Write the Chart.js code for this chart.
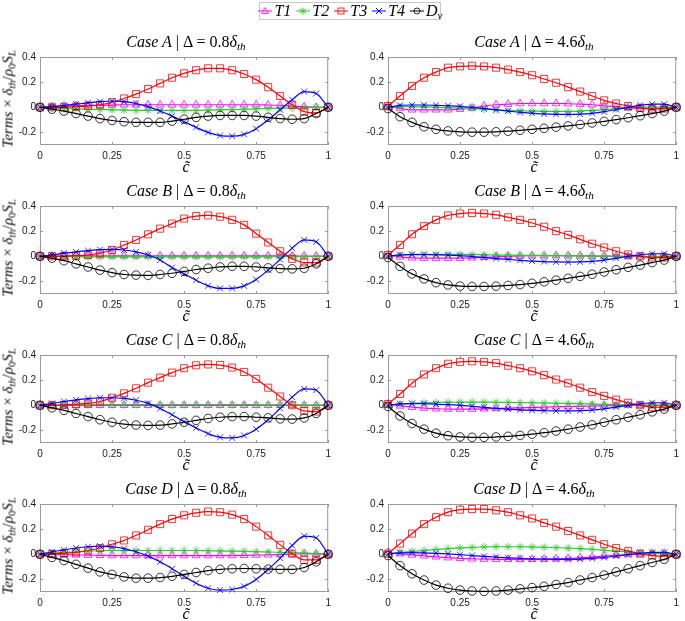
<!DOCTYPE html>
<html>
<head>
<meta charset="utf-8">
<script src="https://cdn.jsdelivr.net/npm/chart.js@4.4.1/dist/chart.umd.min.js"></script>
<style>
  body { margin: 0; background: #fff; }
  #wrap { position: relative; width: 685px; height: 621px; overflow: hidden; }
  canvas { position: absolute; }
  .ttl { position: absolute; width: 292px; text-align: center; font: 16px "Liberation Serif", serif; line-height: 16px; white-space: nowrap; color: #000; }
  .xl { position: absolute; width: 292px; text-align: center; font: italic 16px "Liberation Serif", serif; line-height: 16px; color: #000; }
  .yl { position: absolute; left: 8px; transform: translate(-50%, -50%) rotate(-90deg); font: 15px "Liberation Serif", serif; white-space: nowrap; color: #000; }
  i { font-style: italic; }
  sub { font-size: 70%; vertical-align: -3px; line-height: 0; }
  #legend { position: absolute; left: 259px; top: 2px; width: 182px; height: 18px; border: 1px solid #c8c8c8; box-sizing: border-box; display: flex; align-items: center; justify-content: center; font: italic 16px "Liberation Serif", serif; background: #fff; }
  #legend span.it { display: flex; align-items: center; margin: 0 2px; }
  #legend svg { margin-right: 1px; }
</style>
</head>
<body>
<div id="wrap"></div>
<script>
// x positions of the samples (c tilde)
var cTilde = [0, 0.0417, 0.0833, 0.125, 0.1667, 0.2083, 0.25, 0.2917, 0.3333, 0.375, 0.4167, 0.4583, 0.5,
              0.5417, 0.5833, 0.625, 0.6667, 0.7083, 0.75, 0.7917, 0.8333, 0.875, 0.9167, 0.9583, 1];
var xTicks = [0, 0.25, 0.5, 0.75, 1];
var xTickLabels = ['0', '0.25', '0.5', '0.75', '1'];
var yTicks = [-0.2, 0, 0.2, 0.4];
var yTickLabels = ['-0.2', '0', '0.2', '0.4'];
var caseNames = ['A', 'B', 'C', 'D'];
var deltaNames = ['0.8', '4.6'];
var seriesNames = ['T1', 'T2', 'T3', 'T4', 'Dv'];

// Case A, delta = 0.8
var t1A08 = [0, 0.005, 0.01, 0.012, 0.015, 0.015, 0.018, 0.02, 0.02, 0.02, 0.02, 0.02, 0.02, 0.02, 0.02, 0.02, 0.02, 0.02, 0.02, 0.018, 0.015, 0.01, 0.005, 0, 0];
var t2A08 = [0, -0.005, -0.01, -0.012, -0.015, -0.018, -0.02, -0.022, -0.025, -0.025, -0.025, -0.025, -0.025, -0.025, -0.022, -0.02, -0.018, -0.015, -0.012, -0.01, -0.008, -0.005, -0.003, 0, 0];
var t3A08 = [0, 0, 0, 0.005, 0.01, 0.02, 0.04, 0.07, 0.105, 0.145, 0.19, 0.235, 0.27, 0.295, 0.31, 0.31, 0.295, 0.265, 0.22, 0.16, 0.09, 0.02, -0.035, -0.045, 0];
var t4A08 = [0, 0.005, 0.015, 0.025, 0.035, 0.045, 0.05, 0.045, 0.03, 0.005, -0.03, -0.07, -0.115, -0.16, -0.2, -0.225, -0.23, -0.215, -0.17, -0.1, -0.02, 0.06, 0.125, 0.11, 0];
var dvA08 = [0, -0.015, -0.03, -0.05, -0.07, -0.09, -0.105, -0.115, -0.12, -0.12, -0.12, -0.11, -0.095, -0.08, -0.07, -0.065, -0.065, -0.065, -0.07, -0.08, -0.09, -0.095, -0.09, -0.05, 0];
// Case A, delta = 4.6
var t1A46 = [0.01, -0.01, -0.02, -0.02, -0.02, -0.02, -0.015, -0.005, 0.01, 0.02, 0.025, 0.03, 0.03, 0.03, 0.03, 0.028, 0.025, 0.02, 0.012, 0.005, -0.005, -0.01, -0.01, -0.005, 0];
var t2A46 = [0, 0.005, 0.005, 0.003, 0, -0.003, -0.007, -0.01, -0.015, -0.02, -0.025, -0.028, -0.03, -0.032, -0.033, -0.033, -0.03, -0.025, -0.018, -0.01, -0.003, 0, 0.002, 0.002, 0];
var t3A46 = [0.01, 0.09, 0.17, 0.235, 0.28, 0.315, 0.325, 0.33, 0.325, 0.315, 0.3, 0.28, 0.255, 0.225, 0.195, 0.16, 0.125, 0.09, 0.055, 0.03, 0.01, -0.005, -0.012, -0.01, 0];
var t4A46 = [0, 0.015, 0.018, 0.018, 0.015, 0.012, 0.008, 0, -0.01, -0.02, -0.03, -0.04, -0.047, -0.053, -0.056, -0.057, -0.055, -0.048, -0.035, -0.018, 0, 0.015, 0.025, 0.025, 0];
var dvA46 = [-0.01, -0.075, -0.12, -0.155, -0.175, -0.188, -0.195, -0.198, -0.198, -0.195, -0.19, -0.183, -0.175, -0.167, -0.158, -0.148, -0.137, -0.125, -0.112, -0.098, -0.083, -0.067, -0.05, -0.03, 0];
// Case B, delta = 0.8
var t1B08 = [0, 0.002, 0.003, 0.003, 0.004, 0.004, 0.004, 0.004, 0.004, 0.004, 0.004, 0.004, 0.004, 0.004, 0.004, 0.004, 0.004, 0.004, 0.004, 0.004, 0.003, 0.003, 0.002, 0.001, 0];
var t2B08 = [0, -0.002, -0.003, -0.004, -0.004, -0.005, -0.005, -0.005, -0.005, -0.005, -0.005, -0.005, -0.005, -0.005, -0.005, -0.005, -0.005, -0.004, -0.004, -0.004, -0.003, -0.003, -0.002, -0.001, 0];
var t3B08 = [0, 0, 0.002, 0.005, 0.01, 0.025, 0.05, 0.09, 0.13, 0.175, 0.22, 0.26, 0.3, 0.32, 0.325, 0.315, 0.29, 0.25, 0.18, 0.11, 0.04, -0.02, -0.05, -0.05, 0];
var t4B08 = [0, 0.01, 0.025, 0.035, 0.045, 0.053, 0.055, 0.05, 0.035, 0.01, -0.03, -0.09, -0.14, -0.19, -0.235, -0.255, -0.255, -0.235, -0.185, -0.11, -0.025, 0.065, 0.13, 0.115, 0];
var dvB08 = [0, -0.015, -0.035, -0.06, -0.085, -0.11, -0.13, -0.145, -0.15, -0.152, -0.145, -0.135, -0.12, -0.105, -0.095, -0.085, -0.08, -0.08, -0.085, -0.092, -0.098, -0.1, -0.095, -0.06, 0];
// Case B, delta = 4.6
var t1B46 = [0.01, -0.005, -0.012, -0.015, -0.015, -0.015, -0.015, -0.012, -0.008, -0.004, 0, 0.003, 0.005, 0.005, 0.005, 0.005, 0.004, 0.003, 0.001, 0, -0.002, -0.003, -0.003, -0.002, 0];
var t2B46 = [0, 0.01, 0.015, 0.015, 0.015, 0.015, 0.015, 0.013, 0.012, 0.01, 0.01, 0.008, 0.007, 0.006, 0.005, 0.004, 0.003, 0.002, 0.001, 0, 0, 0, 0, 0, 0];
var t3B46 = [0.01, 0.09, 0.175, 0.24, 0.29, 0.325, 0.34, 0.345, 0.34, 0.33, 0.31, 0.29, 0.265, 0.235, 0.2, 0.17, 0.135, 0.1, 0.07, 0.04, 0.015, 0, -0.01, -0.01, 0];
var t4B46 = [0, 0.012, 0.014, 0.013, 0.012, 0.01, 0.005, -0.002, -0.01, -0.018, -0.025, -0.032, -0.038, -0.042, -0.045, -0.046, -0.045, -0.04, -0.03, -0.015, 0, 0.012, 0.02, 0.02, 0];
var dvB46 = [-0.01, -0.08, -0.14, -0.18, -0.21, -0.228, -0.237, -0.24, -0.24, -0.238, -0.232, -0.225, -0.215, -0.203, -0.19, -0.175, -0.16, -0.143, -0.125, -0.107, -0.088, -0.07, -0.05, -0.03, 0];
// Case C, delta = 0.8
var t1C08 = [0, 0, 0, 0, 0, 0, 0, 0, 0, 0, 0, 0, 0, 0, 0, 0, 0, 0, 0, 0, 0, 0, 0, 0, 0];
var t2C08 = [0, 0.002, 0.003, 0.004, 0.004, 0.005, 0.005, 0.005, 0.005, 0.005, 0.005, 0.005, 0.005, 0.005, 0.005, 0.005, 0.005, 0.005, 0.004, 0.004, 0.004, 0.003, 0.002, 0.001, 0];
var t3C08 = [0, 0, 0.003, 0.008, 0.015, 0.03, 0.06, 0.095, 0.135, 0.18, 0.22, 0.26, 0.295, 0.318, 0.325, 0.32, 0.3, 0.265, 0.21, 0.14, 0.07, 0, -0.045, -0.05, 0];
var t4C08 = [0, 0.015, 0.03, 0.043, 0.053, 0.06, 0.06, 0.055, 0.04, 0.015, -0.025, -0.075, -0.13, -0.18, -0.225, -0.255, -0.26, -0.24, -0.19, -0.115, -0.025, 0.065, 0.13, 0.12, 0];
var dvC08 = [0, -0.02, -0.04, -0.065, -0.09, -0.115, -0.135, -0.15, -0.157, -0.16, -0.158, -0.148, -0.135, -0.12, -0.105, -0.095, -0.09, -0.09, -0.095, -0.1, -0.108, -0.11, -0.1, -0.065, 0];
// Case C, delta = 4.6
var t1C46 = [0.01, -0.005, -0.015, -0.022, -0.027, -0.03, -0.03, -0.03, -0.028, -0.025, -0.022, -0.02, -0.017, -0.014, -0.012, -0.01, -0.008, -0.006, -0.004, -0.002, 0, 0, 0, 0, 0];
var t2C46 = [0, 0.01, 0.015, 0.02, 0.022, 0.024, 0.025, 0.025, 0.025, 0.024, 0.023, 0.022, 0.02, 0.018, 0.016, 0.014, 0.012, 0.01, 0.008, 0.005, 0.003, 0.002, 0.001, 0, 0];
var t3C46 = [0.01, 0.09, 0.175, 0.245, 0.295, 0.33, 0.345, 0.35, 0.345, 0.335, 0.315, 0.295, 0.27, 0.24, 0.205, 0.175, 0.14, 0.105, 0.075, 0.045, 0.02, 0, -0.012, -0.015, 0];
var t4C46 = [0, 0.012, 0.014, 0.013, 0.01, 0.006, 0, -0.008, -0.016, -0.024, -0.03, -0.036, -0.04, -0.043, -0.045, -0.045, -0.043, -0.038, -0.028, -0.014, 0, 0.012, 0.02, 0.02, 0];
var dvC46 = [-0.01, -0.085, -0.145, -0.19, -0.222, -0.242, -0.252, -0.255, -0.255, -0.252, -0.247, -0.24, -0.23, -0.218, -0.205, -0.19, -0.173, -0.155, -0.135, -0.115, -0.095, -0.075, -0.052, -0.03, 0];
// Case D, delta = 0.8
var t1D08 = [0, 0, -0.003, -0.005, -0.007, -0.008, -0.01, -0.01, -0.01, -0.01, -0.01, -0.01, -0.01, -0.01, -0.01, -0.01, -0.01, -0.008, -0.006, -0.004, -0.002, 0, 0.005, 0.003, 0];
var t2D08 = [0, 0.01, 0.015, 0.02, 0.025, 0.028, 0.03, 0.03, 0.03, 0.03, 0.03, 0.03, 0.03, 0.03, 0.028, 0.027, 0.025, 0.023, 0.02, 0.018, 0.015, 0.012, 0.01, 0.007, 0];
var t3D08 = [0, 0.002, 0.008, 0.015, 0.03, 0.05, 0.08, 0.11, 0.15, 0.195, 0.24, 0.28, 0.31, 0.33, 0.34, 0.335, 0.315, 0.28, 0.22, 0.15, 0.075, 0.005, -0.045, -0.045, 0];
var t4D08 = [0, 0.02, 0.035, 0.05, 0.06, 0.065, 0.06, 0.045, 0.02, -0.015, -0.06, -0.115, -0.175, -0.23, -0.27, -0.285, -0.28, -0.255, -0.2, -0.12, -0.03, 0.07, 0.145, 0.13, 0];
var dvD08 = [0, -0.025, -0.05, -0.08, -0.11, -0.14, -0.16, -0.18, -0.19, -0.19, -0.185, -0.175, -0.16, -0.145, -0.13, -0.12, -0.115, -0.113, -0.115, -0.118, -0.12, -0.12, -0.105, -0.06, 0];
// Case D, delta = 4.6
var t1D46 = [0.015, 0.005, -0.005, -0.012, -0.02, -0.027, -0.032, -0.036, -0.038, -0.04, -0.04, -0.04, -0.04, -0.038, -0.036, -0.033, -0.028, -0.022, -0.015, -0.008, -0.002, 0.003, 0.008, 0.008, 0];
var t2D46 = [0, 0.015, 0.022, 0.03, 0.038, 0.045, 0.05, 0.055, 0.058, 0.06, 0.06, 0.06, 0.058, 0.056, 0.053, 0.05, 0.045, 0.04, 0.032, 0.025, 0.018, 0.012, 0.008, 0.005, 0];
var t3D46 = [0.005, 0.085, 0.165, 0.24, 0.295, 0.335, 0.355, 0.36, 0.36, 0.35, 0.335, 0.31, 0.285, 0.25, 0.22, 0.185, 0.15, 0.115, 0.08, 0.05, 0.025, 0.005, -0.01, -0.015, 0];
var t4D46 = [0, 0.012, 0.014, 0.012, 0.008, 0.003, -0.003, -0.01, -0.017, -0.023, -0.028, -0.032, -0.036, -0.038, -0.04, -0.04, -0.038, -0.033, -0.025, -0.014, -0.002, 0.008, 0.015, 0.015, 0];
var dvD46 = [-0.01, -0.09, -0.155, -0.205, -0.245, -0.27, -0.285, -0.292, -0.295, -0.292, -0.285, -0.275, -0.265, -0.255, -0.24, -0.225, -0.205, -0.185, -0.165, -0.14, -0.115, -0.09, -0.065, -0.04, 0];

var panelData = [
  [[t1A08, t2A08, t3A08, t4A08, dvA08], [t1A46, t2A46, t3A46, t4A46, dvA46]],
  [[t1B08, t2B08, t3B08, t4B08, dvB08], [t1B46, t2B46, t3B46, t4B46, dvB46]],
  [[t1C08, t2C08, t3C08, t4C08, dvC08], [t1C46, t2C46, t3C46, t4C46, dvC46]],
  [[t1D08, t2D08, t3D08, t4D08, dvD08], [t1D46, t2D46, t3D46, t4D46, dvD46]]
];

// look of each series
var colors = ['#ff00ff', '#2ccc2c', '#ff0000', '#0000ff', '#000000'];
var markers = ['triangle', 'star', 'rect', 'crossRot', 'circle'];
var radii = [4.5, 4, 5, 4.2, 4.3];

// layout
var plotLefts = [40, 388];
var plotTops = [53, 202, 351, 500];
var plotW = 292, plotH = 92;
var yAxisW = 34, xAxisH = 16, padTop = 6, padRight = 4;

// box round the plot area with inward ticks (matlab look)
var boxPlugin = {
  id: 'box',
  beforeDatasetsDraw: function(chart) {
    var ctx = chart.ctx, a = chart.chartArea;
    var xs = chart.scales.x, ys = chart.scales.y;
    ctx.save();
    ctx.strokeStyle = '#9a9a9a';
    ctx.lineWidth = 1;
    ctx.strokeRect(a.left + 0.5, a.top + 0.5, a.right - a.left - 1, a.bottom - a.top - 1);
    ctx.beginPath();
    xTicks.forEach(function(v) {
      var px = Math.round(xs.getPixelForValue(v)) + 0.5;
      ctx.moveTo(px, a.bottom); ctx.lineTo(px, a.bottom - 3);
      ctx.moveTo(px, a.top); ctx.lineTo(px, a.top + 3);
    });
    yTicks.forEach(function(v) {
      var py = Math.round(ys.getPixelForValue(v)) + 0.5;
      ctx.moveTo(a.left, py); ctx.lineTo(a.left + 3, py);
      ctx.moveTo(a.right, py); ctx.lineTo(a.right - 3, py);
    });
    ctx.stroke();
    ctx.restore();
  }
};

function drawPanel(row, col) {
  var wrap = document.getElementById('wrap');
  var cv = document.createElement('canvas');
  cv.width = plotW + yAxisW + padRight;
  cv.height = plotH + padTop + xAxisH;
  cv.style.left = (plotLefts[col] - yAxisW) + 'px';
  cv.style.top = (plotTops[row] - padTop) + 'px';
  wrap.appendChild(cv);

  var sets = panelData[row][col].map(function(arr, i) {
    return {
      label: seriesNames[i],
      data: cTilde.map(function(x, k) { return { x: x, y: arr[k] }; }),
      borderColor: colors[i],
      borderWidth: 1.2,
      pointStyle: markers[i],
      pointRadius: radii[i],
      pointBorderColor: colors[i],
      pointBackgroundColor: 'rgba(0,0,0,0)',
      pointBorderWidth: 0.8,
      cubicInterpolationMode: 'monotone',
      clip: false,
      order: 4 - i
    };
  });

  new Chart(cv.getContext('2d'), {
    type: 'line',
    data: { datasets: sets },
    options: {
      responsive: false,
      animation: false,
      layout: { padding: { top: padTop, right: padRight, left: 0, bottom: 0 } },
      plugins: { legend: { display: false }, tooltip: { enabled: false } },
      scales: {
        x: {
          type: 'linear', min: 0, max: 1,
          afterBuildTicks: function(s) { s.ticks = xTicks.map(function(v) { return { value: v }; }); },
          afterFit: function(s) { s.height = xAxisH; },
          grid: { display: false, drawTicks: false },
          border: { display: false },
          ticks: {
            autoSkip: false, maxRotation: 0, padding: 5, color: '#1a1a1a',
            font: { family: 'Liberation Sans', size: 10 },
            callback: function(v, i) { return xTickLabels[i]; }
          }
        },
        y: {
          min: -0.3, max: 0.4,
          afterBuildTicks: function(s) { s.ticks = yTicks.map(function(v) { return { value: v }; }); },
          afterFit: function(s) { s.width = yAxisW; },
          grid: { display: false, drawTicks: false },
          border: { display: false },
          ticks: {
            autoSkip: false, padding: 4, color: '#1a1a1a',
            font: { family: 'Liberation Sans', size: 10 },
            callback: function(v, i) { return yTickLabels[i]; }
          }
        }
      }
    },
    plugins: [boxPlugin]
  });

  // title and axis labels as html text
  var t = document.createElement('div');
  t.className = 'ttl';
  t.style.left = plotLefts[col] + 'px';
  t.style.top = (plotTops[row] - 19) + 'px';
  t.innerHTML = '<i>Case ' + caseNames[row] + '</i> | &Delta; = ' + deltaNames[col] + '<i>&delta;</i><sub><i>th</i></sub>';
  wrap.appendChild(t);

  var xl = document.createElement('div');
  xl.className = 'xl';
  xl.style.left = plotLefts[col] + 'px';
  xl.style.top = (plotTops[row] + plotH + 14) + 'px';
  xl.innerHTML = 'c&#771;';
  wrap.appendChild(xl);

  if (col === 0) {
    var yl = document.createElement('div');
    yl.className = 'yl';
    yl.style.top = (plotTops[row] + plotH / 2) + 'px';
    yl.innerHTML = '<i>Terms</i> &times; <i>&delta;</i><sub><i>th</i></sub>/<i>&rho;</i><sub>0</sub><i>S</i><sub><i>L</i></sub>';
    wrap.appendChild(yl);
  }
}

function legendIcon(i) {
  var c = colors[i], m = '';
  if (i === 0) m = '<polygon points="8,1.5 11.5,7.5 4.5,7.5" fill="none" stroke="' + c + '" stroke-width="0.8"/>';
  if (i === 1) m = '<path d="M8,1.5V8.5M4.8,3.2L11.2,6.8M4.8,6.8L11.2,3.2" stroke="' + c + '" stroke-width="1"/>';
  if (i === 2) m = '<rect x="5" y="2" width="6" height="6" fill="none" stroke="' + c + '" stroke-width="0.8"/>';
  if (i === 3) m = '<path d="M5,2L11,8M5,8L11,2" stroke="' + c + '" stroke-width="1"/>';
  if (i === 4) m = '<circle cx="8" cy="5" r="3" fill="none" stroke="' + c + '" stroke-width="0.8"/>';
  return '<svg width="16" height="10"><line x1="1" y1="5" x2="15" y2="5" stroke="' + c + '" stroke-width="1"/>' + m + '</svg>';
}

function drawLegend() {
  var lg = document.createElement('div');
  lg.id = 'legend';
  var labels = ['<i>T</i>1', '<i>T</i>2', '<i>T</i>3', '<i>T</i>4', '<i>D</i><sub><i>v</i></sub>'];
  lg.innerHTML = seriesNames.map(function(n, i) {
    return '<span class="it">' + legendIcon(i) + '<span>' + labels[i] + '</span></span>';
  }).join('');
  document.getElementById('wrap').appendChild(lg);
}

for (var r = 0; r < 4; r++) {
  for (var c = 0; c < 2; c++) drawPanel(r, c);
}
drawLegend();
</script>
</body>
</html>
